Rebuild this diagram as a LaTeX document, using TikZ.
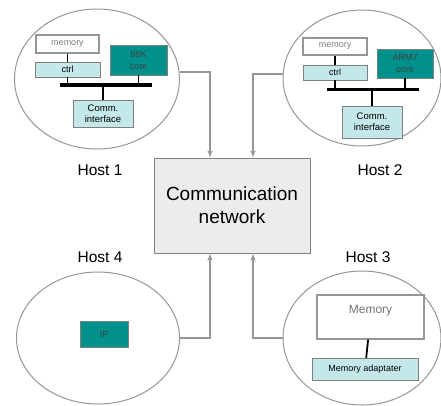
\documentclass[tikz,border=0pt]{standalone}
\usepackage{fontspec}
\setmainfont{Liberation Sans}
\usepackage{tikz}
\usetikzlibrary{arrows, positioning, shapes}

\definecolor{corecol}{RGB}{0,145,140}
\definecolor{ctrlcol}{RGB}{196,232,234}
\definecolor{netcol}{RGB}{236,236,236}
\definecolor{linecol}{RGB}{150,150,150}

\tikzset{
	host/.style={draw=linecol, line width=1pt, ellipse},
	membox/.style={draw=linecol, line width=1.2pt, fill=white, text=gray, font=\fontsize{9}{10}\selectfont},
	ctrlbox/.style={draw=gray, fill=ctrlcol, font=\fontsize{9}{10}\selectfont, align=center, inner sep=1pt},
	corebox/.style={draw=gray, fill=corecol, text=black!75, font=\fontsize{9}{12}\selectfont, align=center, inner sep=1pt},
	bus/.style={line width=3.5pt},
	link/.style={line width=1.8pt},
	conn/.style={draw=linecol, line width=1.5pt, -latex'},
	hostlabel/.style={font=\fontsize{15.5}{18}\selectfont}
}

\begin{document}
\begin{tikzpicture}[x=1pt, y=-1pt]
\useasboundingbox (0,0) rectangle (441,405);

% communication network
\node [draw=gray, fill=netcol, minimum width=156pt, minimum height=95pt, align=center,
	font=\fontsize{19}{23}\selectfont] (net) at (232,205.5) {Communication\\network};

% host 1
\node [host, minimum width=165pt, minimum height=140pt] (h1) at (97,79) {};
\node [membox, minimum width=63pt, minimum height=18pt] (mem1) at (67.5,44) {memory};
\node [ctrlbox, minimum width=65pt, minimum height=15pt] (ctrl1) at (67.5,69.5) {ctrl};
\node [corebox, minimum width=57pt, minimum height=30pt] (core1) at (138.5,60) {68K\\core};
\node [ctrlbox, minimum width=60pt, minimum height=27pt, font=\fontsize{9.5}{11}\selectfont] (comm1) at (103,113.5) {Comm.\\interface};
\coordinate (b1l) at (60,85);
\coordinate (b1r) at (152,85);
\draw [bus] (b1l) -- (b1r);
\draw [link] (mem1) -- (ctrl1);
\draw [link] (ctrl1.south) -- (ctrl1.south |- b1l);
\draw [link] (core1.south) -- (core1.south |- b1l);
\draw [link] (comm1.north) -- (comm1.north |- b1l);
\node [hostlabel] (l1) at (100,170) {Host 1};

% host 2
\node [host, minimum width=158pt, minimum height=136pt] (h2) at (362,78) {};
\node [membox, minimum width=64pt, minimum height=17pt] (mem2) at (335,46.5) {memory};
\node [ctrlbox, minimum width=64pt, minimum height=15pt] (ctrl2) at (335,72.5) {ctrl};
\node [corebox, minimum width=56pt, minimum height=29pt] (core2) at (405,63.5) {ARM7\\core};
\node [ctrlbox, minimum width=60pt, minimum height=32pt, font=\fontsize{9.5}{11}\selectfont] (comm2) at (372,122) {Comm.\\interface};
\coordinate (b2l) at (327,89.5);
\coordinate (b2r) at (419,89.5);
\draw [bus] (b2l) -- (b2r);
\draw [link] (mem2) -- (ctrl2);
\draw [link] (ctrl2.south) -- (ctrl2.south |- b2l);
\draw [link] (core2.south) -- (core2.south |- b2l);
\draw [link] (comm2.north) -- (comm2.north |- b2l);
\node [hostlabel] (l2) at (380,170) {Host 2};

% host 3
\node [host, minimum width=158pt, minimum height=134pt] (h3) at (362,338) {};
\node [membox, minimum width=107pt, minimum height=44pt,
	label={[anchor=north, yshift=-7pt, text=black!55, font=\fontsize{12}{14}\selectfont]north:Memory}] (mem3) at (370.5,317) {};
\node [ctrlbox, minimum width=106pt, minimum height=22pt] (adapt3) at (365,369) {Memory adaptater};
\draw [link] (mem3) -- (adapt3);
\node [hostlabel] (l3) at (368,257) {Host 3};

% host 4
\node [host, minimum width=163pt, minimum height=132pt] (h4) at (98,338) {};
\node [corebox, minimum width=48pt, minimum height=26pt] (ip4) at (104,334) {IP};
\node [hostlabel] (l4) at (100,257) {Host 4};

% connections to the network
\path [conn] (h1.5) -| ([xshift=-22pt]net.north);
\path [conn] (h2.177) -| ([xshift=21pt]net.north);
\path [conn] (h4.east) -| ([xshift=-22pt]net.south);
\path [conn] (h3.west) -| ([xshift=21pt]net.south);

\end{tikzpicture}
\end{document}
